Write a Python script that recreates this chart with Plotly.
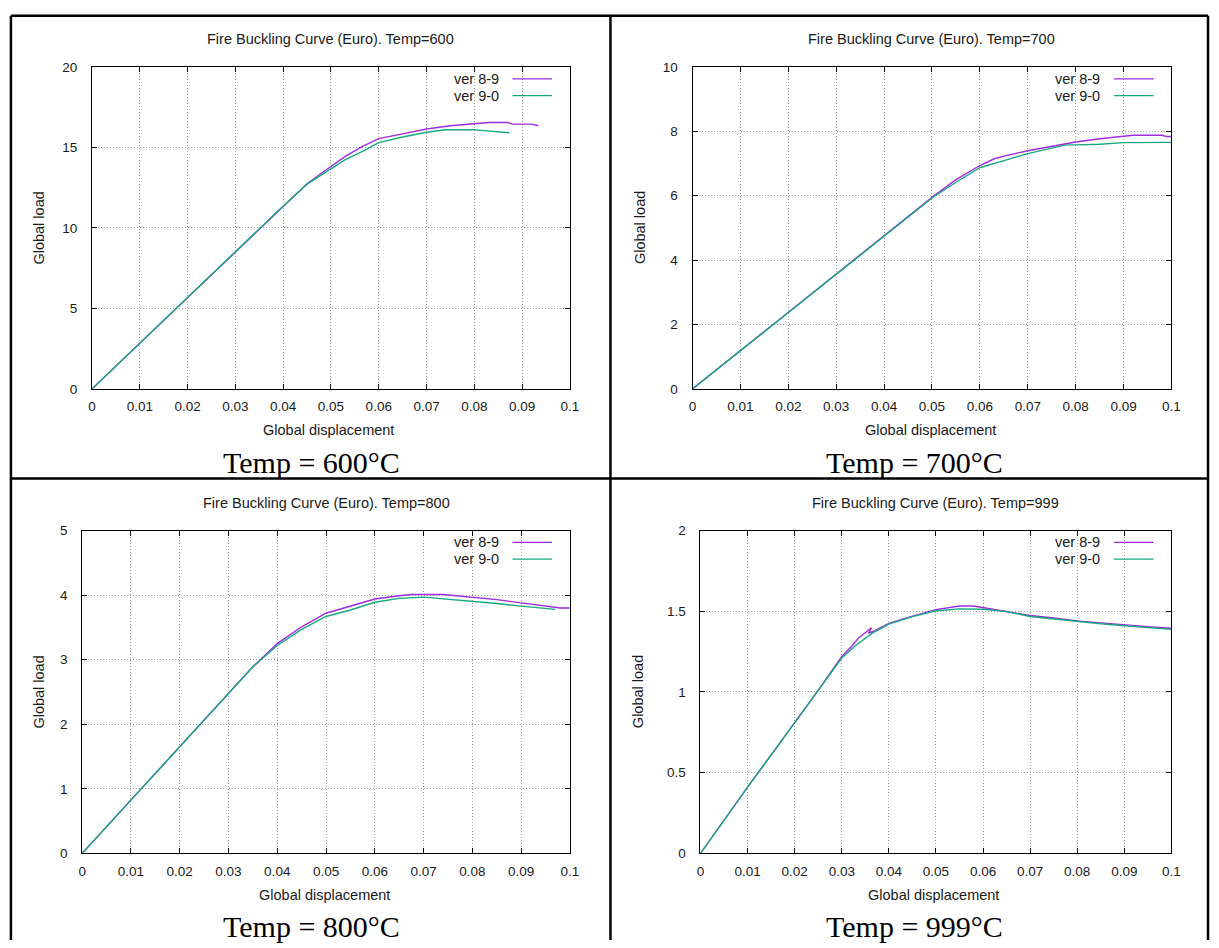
import plotly.graph_objects as go

# ---------------- data ----------------
temps = [600, 700, 800, 999]
series_names = ["ver 8-9", "ver 9-0"]

disp_600_v89 = [0, 0.01, 0.02, 0.03, 0.04, 0.045, 0.048, 0.05, 0.053, 0.0565, 0.06, 0.065, 0.07, 0.075, 0.08, 0.083, 0.087, 0.088, 0.092, 0.0934]
load_600_v89 = [0, 2.84, 5.68, 8.53, 11.37, 12.75, 13.4, 13.8, 14.45, 15.06, 15.55, 15.85, 16.15, 16.35, 16.5, 16.55, 16.55, 16.45, 16.45, 16.35]
disp_600_v90 = [0, 0.01, 0.02, 0.03, 0.04, 0.045, 0.048, 0.05, 0.053, 0.0565, 0.06, 0.065, 0.07, 0.074, 0.08, 0.082, 0.0845, 0.0873]
load_600_v90 = [0, 2.84, 5.68, 8.53, 11.37, 12.72, 13.3, 13.65, 14.25, 14.75, 15.3, 15.65, 15.95, 16.1, 16.1, 16.05, 16.0, 15.92]

disp_700_v89 = [0, 0.01, 0.02, 0.03, 0.04, 0.05, 0.055, 0.06, 0.063, 0.065, 0.07, 0.075, 0.08, 0.085, 0.09, 0.092, 0.098, 0.099, 0.1]
load_700_v89 = [0, 1.19, 2.38, 3.57, 4.76, 5.95, 6.5, 6.94, 7.15, 7.23, 7.4, 7.53, 7.67, 7.77, 7.85, 7.88, 7.88, 7.84, 7.84]
disp_700_v90 = [0, 0.01, 0.02, 0.03, 0.04, 0.05, 0.055, 0.06, 0.065, 0.07, 0.075, 0.078, 0.08, 0.085, 0.09, 0.1]
load_700_v90 = [0, 1.19, 2.38, 3.57, 4.76, 5.93, 6.42, 6.87, 7.09, 7.31, 7.48, 7.58, 7.58, 7.6, 7.65, 7.66]

disp_800_v89 = [0, 0.01, 0.02, 0.03, 0.035, 0.04, 0.045, 0.05, 0.055, 0.06, 0.065, 0.0675, 0.074, 0.08, 0.085, 0.09, 0.095, 0.098, 0.1]
load_800_v89 = [0, 0.83, 1.65, 2.48, 2.89, 3.25, 3.51, 3.72, 3.83, 3.94, 3.99, 4.01, 4.01, 3.97, 3.93, 3.88, 3.83, 3.8, 3.8]
disp_800_v90 = [0, 0.01, 0.02, 0.03, 0.035, 0.04, 0.045, 0.05, 0.055, 0.06, 0.065, 0.07, 0.075, 0.08, 0.085, 0.09, 0.097]
load_800_v90 = [0, 0.83, 1.65, 2.48, 2.89, 3.22, 3.47, 3.67, 3.77, 3.89, 3.95, 3.97, 3.94, 3.9, 3.87, 3.83, 3.78]

disp_999_v89 = [0, 0.01, 0.02, 0.025, 0.03, 0.032, 0.0336, 0.0363, 0.0357, 0.037, 0.04, 0.045, 0.05, 0.055, 0.058, 0.06, 0.065, 0.07, 0.075, 0.08, 0.085, 0.09, 0.095, 0.1]
load_999_v89 = [0, 0.41, 0.81, 1.01, 1.22, 1.28, 1.335, 1.398, 1.364, 1.38, 1.425, 1.47, 1.51, 1.533, 1.533, 1.523, 1.5, 1.474, 1.458, 1.44, 1.428, 1.415, 1.405, 1.395]
disp_999_v90 = [0, 0.01, 0.02, 0.025, 0.03, 0.033, 0.035, 0.0365, 0.04, 0.045, 0.05, 0.055, 0.06, 0.065, 0.07, 0.075, 0.08, 0.085, 0.09, 0.095, 0.1]
load_999_v90 = [0, 0.41, 0.81, 1.01, 1.21, 1.29, 1.335, 1.365, 1.42, 1.467, 1.503, 1.515, 1.513, 1.498, 1.468, 1.452, 1.437, 1.423, 1.41, 1.398, 1.388]

x_tickvals = [0, 0.01, 0.02, 0.03, 0.04, 0.05, 0.06, 0.07, 0.08, 0.09, 0.1]
x_ticktext = ["0", "0.01", "0.02", "0.03", "0.04", "0.05", "0.06", "0.07", "0.08", "0.09", "0.1"]
y_tickvals = {600: [0, 5, 10, 15, 20], 700: [0, 2, 4, 6, 8, 10],
              800: [0, 1, 2, 3, 4, 5], 999: [0, 0.5, 1, 1.5, 2]}
y_ticktext = {600: ["0", "5", "10", "15", "20"], 700: ["0", "2", "4", "6", "8", "10"],
              800: ["0", "1", "2", "3", "4", "5"], 999: ["0", "0.5", "1", "1.5", "2"]}
y_max = {600: 20, 700: 10, 800: 5, 999: 2}

data = {
    600: [(disp_600_v89, load_600_v89), (disp_600_v90, load_600_v90)],
    700: [(disp_700_v89, load_700_v89), (disp_700_v90, load_700_v90)],
    800: [(disp_800_v89, load_800_v89), (disp_800_v90, load_800_v90)],
    999: [(disp_999_v89, load_999_v89), (disp_999_v90, load_999_v90)],
}

# ---------------- layout helpers ----------------
W, H = 1219, 948
def px(x): return x / W
def py(y): return 1 - y / H

# plot-area pixel boxes (left, right, top, bottom)
boxes = {600: (89, 572, 61, 388), 700: (696, 1180, 61, 388),
         800: (79, 572, 532, 860), 999: (704, 1180, 532, 860)}
ytitle_x = {600: 35, 700: 643, 800: 35, 999: 641}
caption_pos = {600: (311, 463), 700: (920, 463), 800: (311, 934), 999: (920, 934)}

colors = ["#9D2BE0", "#17A881"]
SANS = "Liberation Sans, Arial, sans-serif"
SERIF = "Liberation Serif, Times New Roman, serif"
TXT = "#1a1a1a"

fig = go.Figure()
annotations = []
shapes = []

for i, t in enumerate(temps):
    n = i + 1
    xa = "x" if n == 1 else f"x{n}"
    ya = "y" if n == 1 else f"y{n}"
    L, R, T, B = boxes[t]
    for k, (xs, ys) in enumerate(data[t]):
        fig.add_trace(go.Scatter(x=xs, y=ys, mode="lines", xaxis=xa, yaxis=ya,
                                 line=dict(color=colors[k], width=1.4),
                                 name=series_names[k], showlegend=False))
    axis_common = dict(showline=True, linecolor="black", linewidth=1, mirror="ticks",
                       ticks="inside", ticklen=5, tickcolor="black", tickwidth=1,
                       showgrid=True, gridcolor="#a0a0a0", griddash="1px,2px", gridwidth=1,
                       zeroline=False, tickfont=dict(family=SANS, size=13.5, color=TXT))
    fig.layout[("xaxis" if n == 1 else f"xaxis{n}")] = dict(
        domain=[px(L), px(R)], anchor=ya, range=[0, 0.1],
        tickmode="array", tickvals=x_tickvals, ticktext=x_ticktext,
        ticklabelstandoff=5, **axis_common)
    fig.layout[("yaxis" if n == 1 else f"yaxis{n}")] = dict(
        domain=[py(B), py(T)], anchor=xa, range=[0, y_max[t]],
        tickmode="array", tickvals=y_tickvals[t], ticktext=y_ticktext[t],
        ticklabelstandoff=11, **axis_common)

    cx = (L + R) / 2
    # chart title
    annotations.append(dict(x=px(cx), y=py(T - 28), xref="paper", yref="paper",
                            text=f"Fire Buckling Curve (Euro). Temp={t}", showarrow=False,
                            font=dict(family=SANS, size=14.5, color=TXT),
                            xanchor="center", yanchor="middle"))
    # x title
    annotations.append(dict(x=px(cx - 2), y=py(B + 42), xref="paper", yref="paper",
                            text="Global displacement", showarrow=False,
                            font=dict(family=SANS, size=14.5, color=TXT),
                            xanchor="center", yanchor="middle"))
    # y title
    annotations.append(dict(x=px(ytitle_x[t]), y=py((T + B) / 2), xref="paper", yref="paper",
                            text="Global load", showarrow=False, textangle=-90,
                            font=dict(family=SANS, size=14.5, color=TXT),
                            xanchor="center", yanchor="middle"))
    # caption
    cpx, cpy = caption_pos[t]
    annotations.append(dict(x=px(cpx), y=py(cpy), xref="paper", yref="paper",
                            text=f"Temp = {t}°C", showarrow=False,
                            font=dict(family=SERIF, size=30, color="black"),
                            xanchor="center", yanchor="middle"))
    # gnuplot-style key (text right, sample line on the right)
    for k, name in enumerate(series_names):
        ky = T + 12 + 17 * k
        annotations.append(dict(x=px(R - 70), y=py(ky), xref="paper", yref="paper",
                                text=name, showarrow=False,
                                font=dict(family=SANS, size=14.5, color=TXT),
                                xanchor="right", yanchor="middle"))
        shapes.append(dict(type="line", xref="paper", yref="paper",
                           x0=px(R - 58), x1=px(R - 18), y0=py(ky), y1=py(ky),
                           line=dict(color=colors[k], width=1.4)))

# table borders
border = dict(color="black", width=2.5)
shapes += [
    dict(type="line", xref="paper", yref="paper", x0=px(7), x1=px(1217), y0=py(9), y1=py(9), line=border),
    dict(type="line", xref="paper", yref="paper", x0=px(7), x1=px(1217), y0=py(479), y1=py(479), line=border),
    dict(type="line", xref="paper", yref="paper", x0=px(7), x1=px(7), y0=py(9), y1=py(948), line=border),
    dict(type="line", xref="paper", yref="paper", x0=px(613), x1=px(613), y0=py(9), y1=py(948), line=border),
    dict(type="line", xref="paper", yref="paper", x0=px(1217), x1=px(1217), y0=py(9), y1=py(948), line=border),
]

fig.update_layout(width=W, height=H, margin=dict(l=0, r=0, t=0, b=0),
                  paper_bgcolor="white", plot_bgcolor="white",
                  annotations=annotations, shapes=shapes, showlegend=False)

fig.write_html("out.html")
